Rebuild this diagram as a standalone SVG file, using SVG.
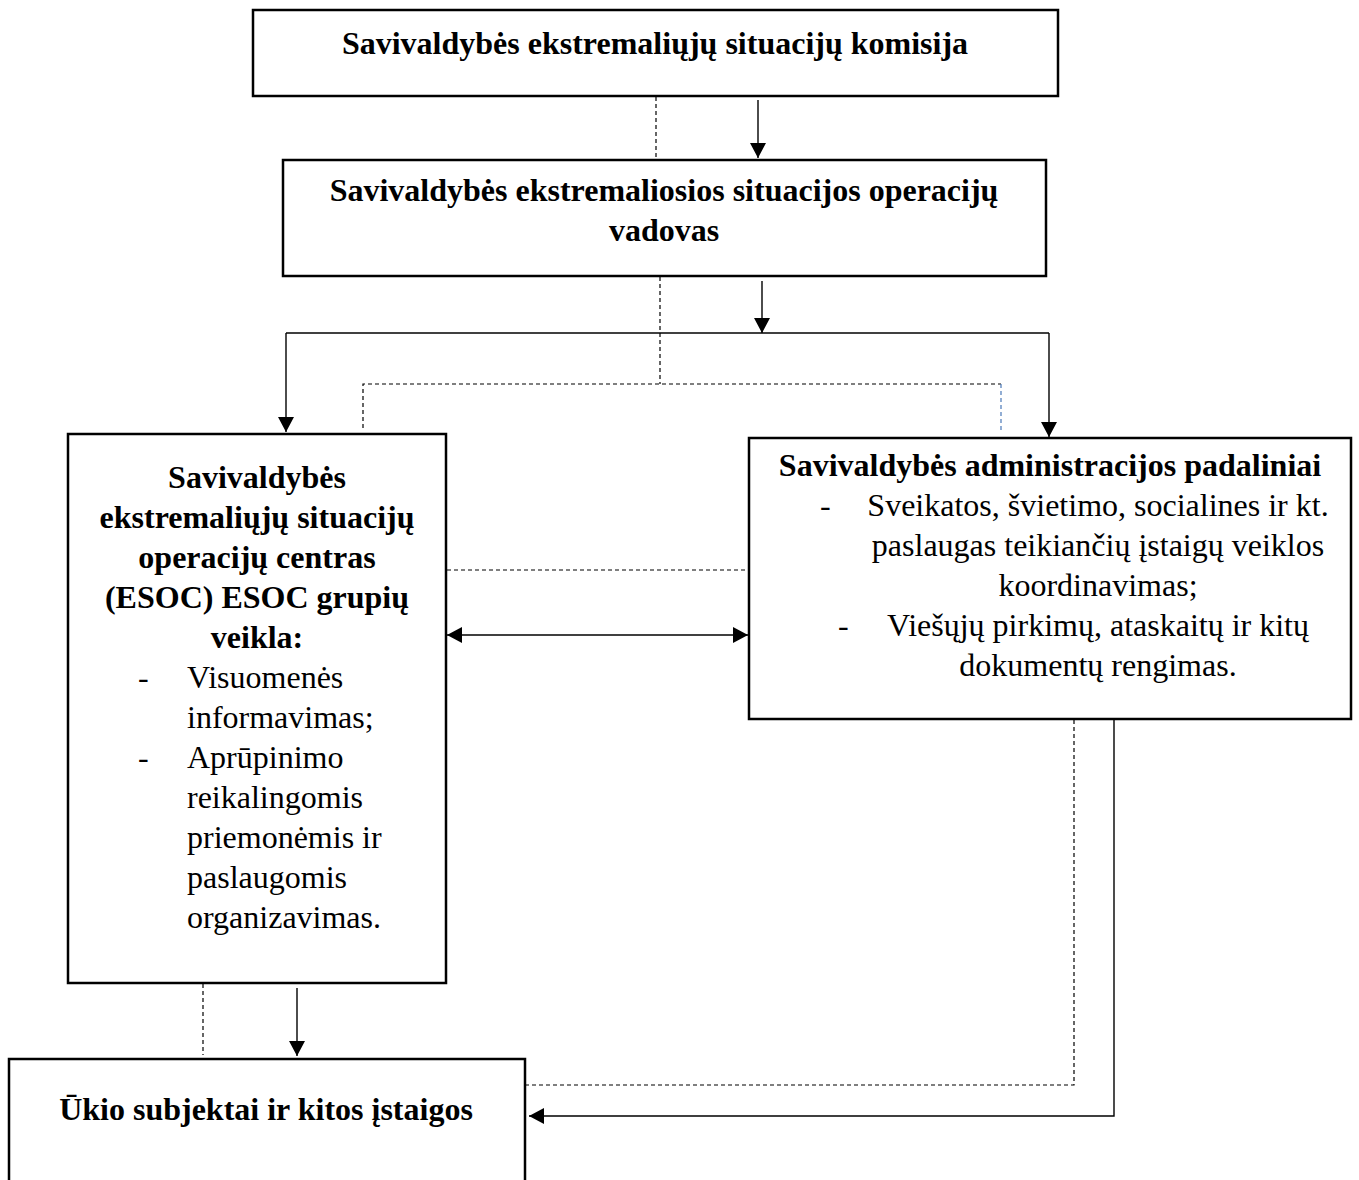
<svg xmlns="http://www.w3.org/2000/svg" width="1359" height="1180" viewBox="0 0 1359 1180">
<style>
.box{fill:#fff;stroke:#000;stroke-width:2.5}
.t{font-family:"Liberation Serif","Times New Roman",serif;font-size:32px;fill:#000}
.b{font-weight:bold}
.c{text-anchor:middle}
.ln{fill:none;stroke:#000;stroke-width:1.4}
.ds{fill:none;stroke:#000;stroke-width:1.2;stroke-dasharray:4 3}
</style>
<defs>
<marker id="ah" markerWidth="15" markerHeight="16" refX="15" refY="8" orient="auto" markerUnits="userSpaceOnUse">
<path d="M0,0 L15,8 L0,16 Z" fill="#000"/>
</marker>
<marker id="as" markerWidth="15" markerHeight="16" refX="0" refY="8" orient="auto" markerUnits="userSpaceOnUse">
<path d="M15,0 L0,8 L15,16 Z" fill="#000"/>
</marker>
</defs>
<rect width="1359" height="1180" fill="#fff"/>
<g id="connectors">
<line class="ds" x1="656" y1="97" x2="656" y2="160"/>
<line class="ln" x1="758" y1="100" x2="758" y2="158" marker-end="url(#ah)"/>
<line class="ds" x1="660" y1="277" x2="660" y2="384"/>
<line class="ln" x1="762" y1="281" x2="762" y2="333" marker-end="url(#ah)"/>
<polyline class="ln" points="286,333 1049,333"/>
<line class="ln" x1="286" y1="333" x2="286" y2="432" marker-end="url(#ah)"/>
<line class="ln" x1="1049" y1="333" x2="1049" y2="437" marker-end="url(#ah)"/>
<polyline class="ds" points="363,428 363,384 1001,384"/>
<line x1="1001" y1="384" x2="1001" y2="430" stroke="#4a78b8" stroke-width="1.2" stroke-dasharray="4 3"/>
<line class="ds" x1="447" y1="570" x2="748" y2="570"/>
<line class="ln" x1="447" y1="635" x2="748" y2="635" marker-start="url(#as)" marker-end="url(#ah)"/>
<line class="ds" x1="203" y1="984" x2="203" y2="1055"/>
<line class="ln" x1="297" y1="988" x2="297" y2="1056" marker-end="url(#ah)"/>
<polyline class="ds" points="1074,720 1074,1085 526,1085"/>
<polyline class="ln" points="1114,720 1114,1116 529,1116" marker-end="url(#ah)"/>
</g>
<g id="node-komisija">
<rect class="box" x="253" y="10" width="805" height="86"/>
<text class="t b c" x="655" y="54">Savivaldybės ekstremaliųjų situacijų komisija</text>
</g>
<g id="node-vadovas">
<rect class="box" x="283" y="160" width="763" height="116"/>
<text class="t b c" x="664" y="201">Savivaldybės ekstremaliosios situacijos operacijų</text>
<text class="t b c" x="664" y="241">vadovas</text>
</g>
<g id="node-esoc">
<rect class="box" x="68" y="434" width="378" height="549"/>
<text class="t b c" x="257" y="488">Savivaldybės</text>
<text class="t b c" x="257" y="528">ekstremaliųjų situacijų</text>
<text class="t b c" x="257" y="568">operacijų centras</text>
<text class="t b c" x="257" y="608">(ESOC) ESOC grupių</text>
<text class="t b c" x="257" y="648">veikla:</text>
<text class="t" x="138" y="688">-</text>
<text class="t" x="187" y="688">Visuomenės</text>
<text class="t" x="187" y="728">informavimas;</text>
<text class="t" x="138" y="768">-</text>
<text class="t" x="187" y="768">Aprūpinimo</text>
<text class="t" x="187" y="808">reikalingomis</text>
<text class="t" x="187" y="848">priemonėmis ir</text>
<text class="t" x="187" y="888">paslaugomis</text>
<text class="t" x="187" y="928">organizavimas.</text>
</g>
<g id="node-padaliniai">
<rect class="box" x="749" y="438" width="602" height="281"/>
<text class="t b c" x="1050" y="476">Savivaldybės administracijos padaliniai</text>
<text class="t" x="820" y="516">-</text>
<text class="t c" x="1098" y="516">Sveikatos, švietimo, socialines ir kt.</text>
<text class="t c" x="1098" y="556">paslaugas teikiančių įstaigų veiklos</text>
<text class="t c" x="1098" y="596">koordinavimas;</text>
<text class="t" x="838" y="636">-</text>
<text class="t c" x="1098" y="636">Viešųjų pirkimų, ataskaitų ir kitų</text>
<text class="t c" x="1098" y="676">dokumentų rengimas.</text>
</g>
<g id="node-ukio">
<rect class="box" x="9" y="1059" width="516" height="130"/>
<text class="t b c" x="266" y="1120">Ūkio subjektai ir kitos įstaigos</text>
</g>
</svg>
